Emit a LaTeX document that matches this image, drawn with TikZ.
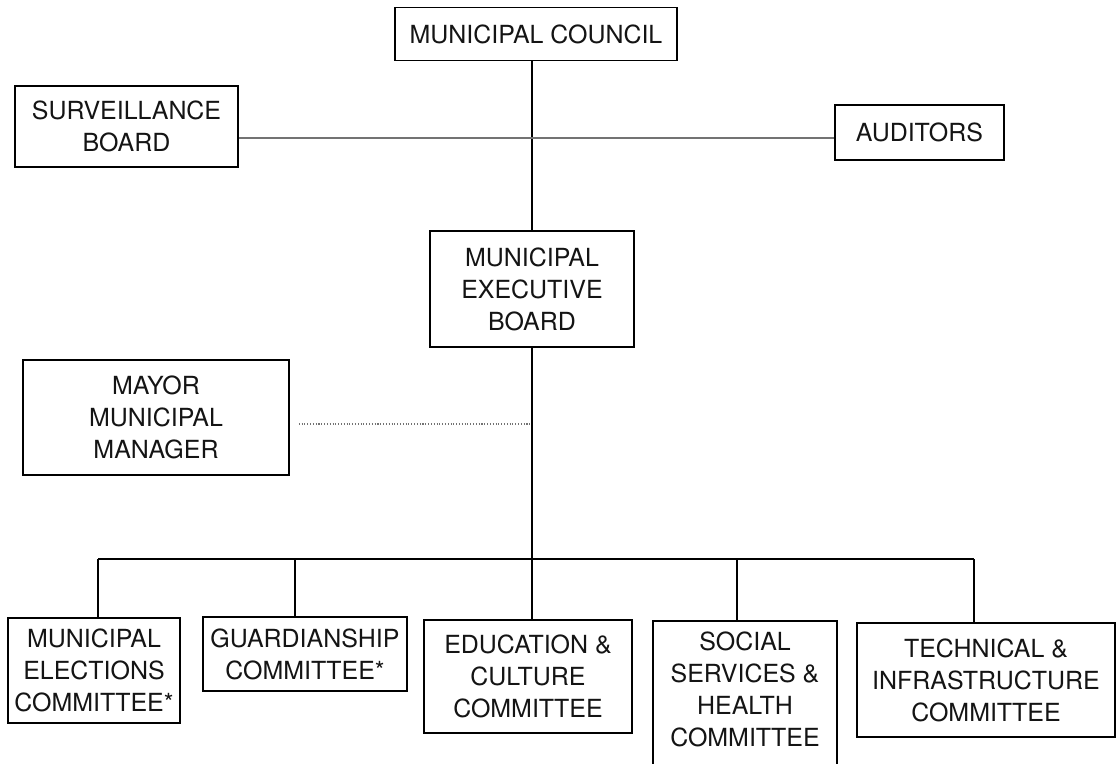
\documentclass[tikz,border=0pt]{standalone}
\usepackage{fontspec}
\setmainfont{TeX Gyre Heros}

\begin{document}
\begin{tikzpicture}[x = 0.02cm, y = -0.02cm,
    unit/.style = {draw, line width = 0.9pt, align = center, inner sep = 2pt, text = black!92,
                   font = \fontsize{14.2}{18.2}\selectfont},
    link/.style = {line width = 0.8pt},
    aside/.style = {line width = 0.6pt, black!55}]
  \useasboundingbox (0,0) rectangle (1119,764);
  \clip (0,0) rectangle (1119,764);

  % council and boards
  \node[unit, minimum width = 5.64cm, minimum height = 1.06cm] (council) at (536,34) {MUNICIPAL COUNCIL};
  \node[unit, minimum width = 4.46cm, minimum height = 1.62cm] (surv) at (126.5,126.5) {SURVEILLANCE\\BOARD};
  \node[unit, minimum width = 3.38cm, minimum height = 1.10cm] (aud) at (919.5,132.5) {AUDITORS};
  \node[unit, minimum width = 4.08cm, minimum height = 2.32cm] (exec) at (532,289) {MUNICIPAL\\EXECUTIVE\\BOARD};
  \node[unit, minimum width = 5.32cm, minimum height = 2.30cm] (mayor) at (156,417.5) {MAYOR\\MUNICIPAL\\MANAGER};

  % committees
  \node[unit, minimum width = 3.44cm, minimum height = 2.10cm] (elect) at (94,670.5) {MUNICIPAL\\ELECTIONS\\COMMITTEE*};
  \node[unit, minimum width = 4.08cm, minimum height = 1.48cm] (guard) at (305,654) {GUARDIANSHIP\\COMMITTEE*};
  \node[unit, minimum width = 4.16cm, minimum height = 2.26cm] (edu) at (528,676.5) {EDUCATION \&\\CULTURE\\COMMITTEE};
  \node[unit, minimum width = 3.68cm, minimum height = 3.38cm] (social) at (745,705.5) {SOCIAL\\SERVICES \&\\HEALTH\\COMMITTEE\\\mbox{}};
  \node[unit, minimum width = 5.16cm, minimum height = 2.28cm] (tech) at (986,680) {TECHNICAL \&\\INFRASTRUCTURE\\COMMITTEE};

  \coordinate (tie) at (exec.north |- 0,138);
  \coordinate (mid) at (exec.south |- 0,424);
  \coordinate (hub) at (exec.south |- 0,559);

  \draw[link] (exec.north |- council.south) -- (exec.north);
  \draw[aside] (surv.east |- tie) -- (aud.west |- tie);
  \draw[link] (exec.south) -- (hub);
  \draw[aside, densely dotted] (mayor.east |- mid) ++(9,0) -- (mid);

  % bus to the committees
  \foreach \x/\n in {98/elect, 295/guard, 532/edu, 737/social, 974/tech}
    \coordinate (\n-top) at (\x,559);
  \draw[link] (elect-top) -- (tech-top);
  \foreach \n in {elect, guard, edu, social, tech}
    \draw[link] (\n-top) -- (\n-top |- \n.north);
\end{tikzpicture}
\end{document}
